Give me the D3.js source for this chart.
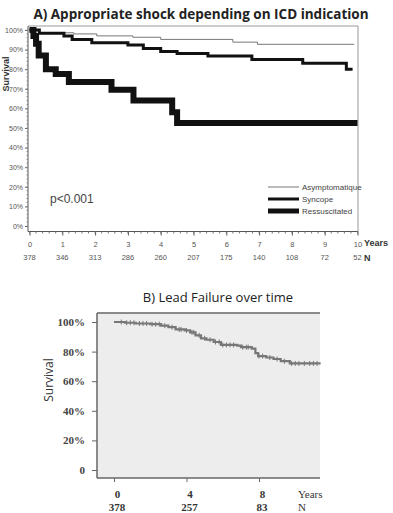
<!DOCTYPE html>
<html>
<head>
<meta charset="utf-8">
<script src="https://cdn.jsdelivr.net/npm/d3@7"></script>
<style>
  body { margin: 0; background: #fff; }
  svg { display: block; }
</style>
</head>
<body>
<svg id="graph" width="393" height="513"></svg>
<script>
// ---- Panel A data (years, survival %) ----
var asymptomatique = [[0,100],[0.3,98.6],[1.35,98],[2.05,97],[3.15,96.3],[4.0,95.2],[6.2,93.8],[6.95,92.7],[9.9,92.7]];
var syncope = [[0,100],[0.3,98.3],[1.05,97],[1.3,95.2],[1.9,93.5],[3.0,92.3],[3.47,90.6],[4.0,89],[4.5,88],[5.44,86.7],[6.78,85],[8.33,83],[9.66,80],[9.85,80]];
var ressuscitated = [[0,100],[0.12,97],[0.2,93],[0.28,87],[0.5,80],[0.8,77.5],[1.2,73.5],[2.5,69.5],[3.17,64],[4.35,58],[4.5,52.5],[10,52.5]];
var yearTicksA = [0,1,2,3,4,5,6,7,8,9,10];
var atRiskA = [378,346,313,286,260,207,175,140,108,72,52];
var pctTicksA = [0,10,20,30,40,50,60,70,80,90,100];
var seriesNamesA = ["Asymptomatique","Syncope","Ressuscitated"];

// ---- Panel B data ----
var leadSurvival = [[0,100],[0.6,99.5],[1.2,99],[2.0,98.5],[2.6,97.5],[3.0,96.5],[3.4,95],[3.9,94.3],[4.2,93],[4.5,91],[4.8,89],[5.1,88],[5.5,86.5],[5.9,84.5],[6.8,84],[7.0,83],[7.6,82],[7.8,79],[7.95,77],[8.4,76],[8.8,75],[9.2,73.5],[9.7,72],[11.4,72]];
var censorB = [0.4,0.7,0.9,1.1,1.4,1.6,1.8,2.1,2.3,2.5,2.8,3.2,3.6,3.7,4.0,4.3,4.4,4.7,5.0,5.3,5.6,5.8,6.0,6.2,6.4,6.6,7.1,7.3,7.4,8.0,8.2,8.6,9.0,9.4,9.8,10.0,10.2,10.5,10.8,11.0,11.2];
var yearTicksB = [0,4,8];
var atRiskB = [378,257,83];
var pctTicksB = [0,20,40,60,80,100];

var svg = d3.select("#graph");

// ================= Panel A =================
var xA = d3.scaleLinear().domain([0,10]).range([29.5,357.5]),
	yA = d3.scaleLinear().domain([0,100]).range([226,30]);
var frameA = {left: 28, top: 26, right: 358, bottom: 231.5};

svg.append("text")
	.attr("x", 201).attr("y", 19)
	.attr("text-anchor", "middle")
	.style("font-family", "'Open Sans', sans-serif")
	.style("font-weight", "bold").style("font-size", "13.5px")
	.style("fill", "#222")
	.text("A) Appropriate shock depending on ICD indication");

var gA = svg.append("g");

// frame (top + right)
gA.append("path")
	.attr("d", "M" + frameA.left + "," + frameA.top + "H" + frameA.right + "V" + frameA.bottom)
	.attr("fill", "none").attr("stroke", "#999").attr("stroke-width", 1);

// y axis
var yAxisA = d3.axisLeft(yA).tickValues(pctTicksA).tickSize(3).tickFormat(function(d) { return d + "%"; });
gA.append("g")
	.attr("transform", "translate(" + frameA.left + ",0)")
	.call(yAxisA)
	.call(function(g) {
		g.select(".domain").attr("d", "M0," + frameA.top + "V" + frameA.bottom).attr("stroke", "#555");
		g.selectAll(".tick line").attr("stroke", "#666");
		g.selectAll("text").style("font-family", "'Liberation Sans', sans-serif").style("font-size", "7px").style("fill", "#555").attr("x", -5);
	});
gA.append("g").selectAll("line")
	.data(d3.range(0, 101, 2))
	.enter().append("line")
		.attr("x1", frameA.left - 1.5).attr("x2", frameA.left)
		.attr("y1", function(d) { return yA(d); }).attr("y2", function(d) { return yA(d); })
		.attr("stroke", "#888");

// x axis
var xAxisA = d3.axisBottom(xA).tickValues(yearTicksA).tickSize(4).tickFormat(d3.format("d"));
gA.append("g")
	.attr("transform", "translate(0," + frameA.bottom + ")")
	.call(xAxisA)
	.call(function(g) {
		g.select(".domain").attr("d", "M" + frameA.left + ",0H" + frameA.right).attr("stroke", "#555");
		g.selectAll(".tick line").attr("stroke", "#555");
		g.selectAll("text").attr("y", 10).style("font-family", "'Liberation Sans', sans-serif").style("font-size", "7.5px").style("fill", "#555");
	});
gA.append("g").selectAll("line")
	.data(d3.range(0, 10.01, 0.2))
	.enter().append("line")
		.attr("x1", function(d) { return xA(d); }).attr("x2", function(d) { return xA(d); })
		.attr("y1", frameA.bottom).attr("y2", frameA.bottom + 2)
		.attr("stroke", "#777");

gA.append("g").selectAll("text")
	.data(atRiskA)
	.enter().append("text")
		.attr("x", function(d, i) { return xA(yearTicksA[i]); })
		.attr("y", 260)
		.attr("text-anchor", "middle")
		.style("font-family", "'Liberation Sans', sans-serif").style("font-size", "7.5px").style("fill", "#555")
		.text(function(d) { return d; });

gA.append("text").attr("x", 364).attr("y", 246)
	.style("font-family", "'Liberation Sans Narrow', 'Liberation Sans', sans-serif").style("font-weight", "bold").style("font-size", "9px").style("fill", "#333")
	.text("Years");
gA.append("text").attr("x", 364).attr("y", 261)
	.style("font-family", "'Liberation Sans Narrow', 'Liberation Sans', sans-serif").style("font-weight", "bold").style("font-size", "9px").style("fill", "#333")
	.text("N");

gA.append("text")
	.attr("transform", "translate(9,74) rotate(-90)")
	.attr("text-anchor", "middle")
	.style("font-family", "'Liberation Sans', sans-serif").style("font-weight", "bold").style("font-size", "9px").style("fill", "#333")
	.text("Survival");

gA.append("text").attr("x", 50).attr("y", 203)
	.style("font-family", "'Liberation Sans', sans-serif").style("font-size", "12px").style("fill", "#444")
	.text("p<0.001");

var stepA = d3.line()
	.x(function(d) { return xA(d[0]); })
	.y(function(d) { return yA(d[1]); })
	.curve(d3.curveStepAfter);

var stylesA = [
	{data: asymptomatique, color: "#777", width: 1},
	{data: syncope, color: "#111", width: 3},
	{data: ressuscitated, color: "#111", width: 6}
];
gA.append("g").selectAll("path")
	.data(stylesA)
	.enter().append("path")
		.attr("d", function(d) { return stepA(d.data); })
		.attr("fill", "none")
		.attr("stroke", function(d) { return d.color; })
		.attr("stroke-width", function(d) { return d.width; });

// legend
var legA = gA.append("g").selectAll("g")
	.data(stylesA)
	.enter().append("g")
		.attr("transform", function(d, i) { return "translate(268," + (187 + i * 12) + ")"; });
legA.append("line")
	.attr("x1", 0).attr("x2", 31)
	.attr("stroke", function(d) { return d.color; })
	.attr("stroke-width", function(d) { return d.width === 6 ? 5 : d.width; });
legA.append("text")
	.attr("x", 34).attr("y", 3)
	.style("font-family", "'Liberation Sans Narrow', 'Liberation Sans', sans-serif").style("font-size", "8px").style("fill", "#444")
	.text(function(d, i) { return seriesNamesA[i]; });

// ================= Panel B =================
var xB = d3.scaleLinear().domain([0,8]).range([114,259]),
	yB = d3.scaleLinear().domain([0,100]).range([470,322]);
var frameB = {left: 97, top: 313, right: 320, bottom: 478};

svg.append("text")
	.attr("x", 218).attr("y", 302)
	.attr("text-anchor", "middle")
	.style("font-family", "'Open Sans', sans-serif")
	.style("font-size", "13px").style("fill", "#222")
	.text("B) Lead Failure over time");

var gB = svg.append("g");
gB.append("rect")
	.attr("x", frameB.left).attr("y", frameB.top)
	.attr("width", frameB.right - frameB.left).attr("height", frameB.bottom - frameB.top)
	.attr("fill", "#ededed");
gB.append("line")
	.attr("x1", frameB.left).attr("x2", frameB.right)
	.attr("y1", frameB.top).attr("y2", frameB.top)
	.attr("stroke", "#666").attr("stroke-width", 1.5);

var serif = "'Liberation Serif', 'DejaVu Serif', serif";
gB.append("g")
	.attr("transform", "translate(" + frameB.left + ",0)")
	.call(d3.axisLeft(yB).tickValues(pctTicksB).tickSize(5).tickFormat(function(d) { return d === 0 ? "0" : d + "%"; }))
	.call(function(g) {
		g.select(".domain").attr("d", "M0," + frameB.top + "V" + frameB.bottom).attr("stroke", "#666").attr("stroke-width", 1.5);
		g.selectAll(".tick line").attr("stroke", "#666");
		g.selectAll("text").attr("x", -12).style("font-family", serif).style("font-weight", "bold").style("font-size", "11px").style("fill", "#444");
	});

gB.append("g")
	.attr("transform", "translate(0," + frameB.bottom + ")")
	.call(d3.axisBottom(xB).tickValues(yearTicksB).tickSize(4).tickFormat(d3.format("d")))
	.call(function(g) {
		g.select(".domain").attr("d", "M" + frameB.left + ",0H" + frameB.right).attr("stroke", "#666").attr("stroke-width", 1.5);
		g.selectAll(".tick line").attr("stroke", "#666");
		g.selectAll("text").attr("y", 12).attr("dx", 3).style("font-family", serif).style("font-weight", "bold").style("font-size", "11px").style("fill", "#333");
	});

gB.append("g").selectAll("text")
	.data(atRiskB)
	.enter().append("text")
		.attr("x", function(d, i) { return xB(yearTicksB[i]) + 3; })
		.attr("y", 511)
		.attr("text-anchor", "middle")
		.style("font-family", serif).style("font-weight", "bold").style("font-size", "11px").style("fill", "#333")
		.text(function(d) { return d; });

gB.append("text").attr("x", 298).attr("y", 498)
	.style("font-family", serif).style("font-size", "11px").style("fill", "#333").text("Years");
gB.append("text").attr("x", 298).attr("y", 511)
	.style("font-family", serif).style("font-size", "11px").style("fill", "#333").text("N");

gB.append("text")
	.attr("transform", "translate(53,380) rotate(-90)")
	.attr("text-anchor", "middle")
	.style("font-family", "'Open Sans', sans-serif").style("font-size", "12px").style("fill", "#333")
	.text("Survival");

var stepB = d3.line()
	.x(function(d) { return xB(d[0]); })
	.y(function(d) { return yB(d[1]); })
	.curve(d3.curveStepAfter);
gB.append("path")
	.attr("d", stepB(leadSurvival))
	.attr("fill", "none").attr("stroke", "#777").attr("stroke-width", 2.2);

var survAt = function(t) {
	var v = leadSurvival[0][1];
	leadSurvival.forEach(function(p) { if (p[0] <= t) v = p[1]; });
	return v;
};
gB.append("g").selectAll("line")
	.data(censorB)
	.enter().append("line")
		.attr("x1", function(d) { return xB(d); }).attr("x2", function(d) { return xB(d); })
		.attr("y1", function(d) { return yB(survAt(d)) - 2.5; })
		.attr("y2", function(d) { return yB(survAt(d)) + 2.5; })
		.attr("stroke", "#777").attr("stroke-width", 1);
</script>
</body>
</html>
